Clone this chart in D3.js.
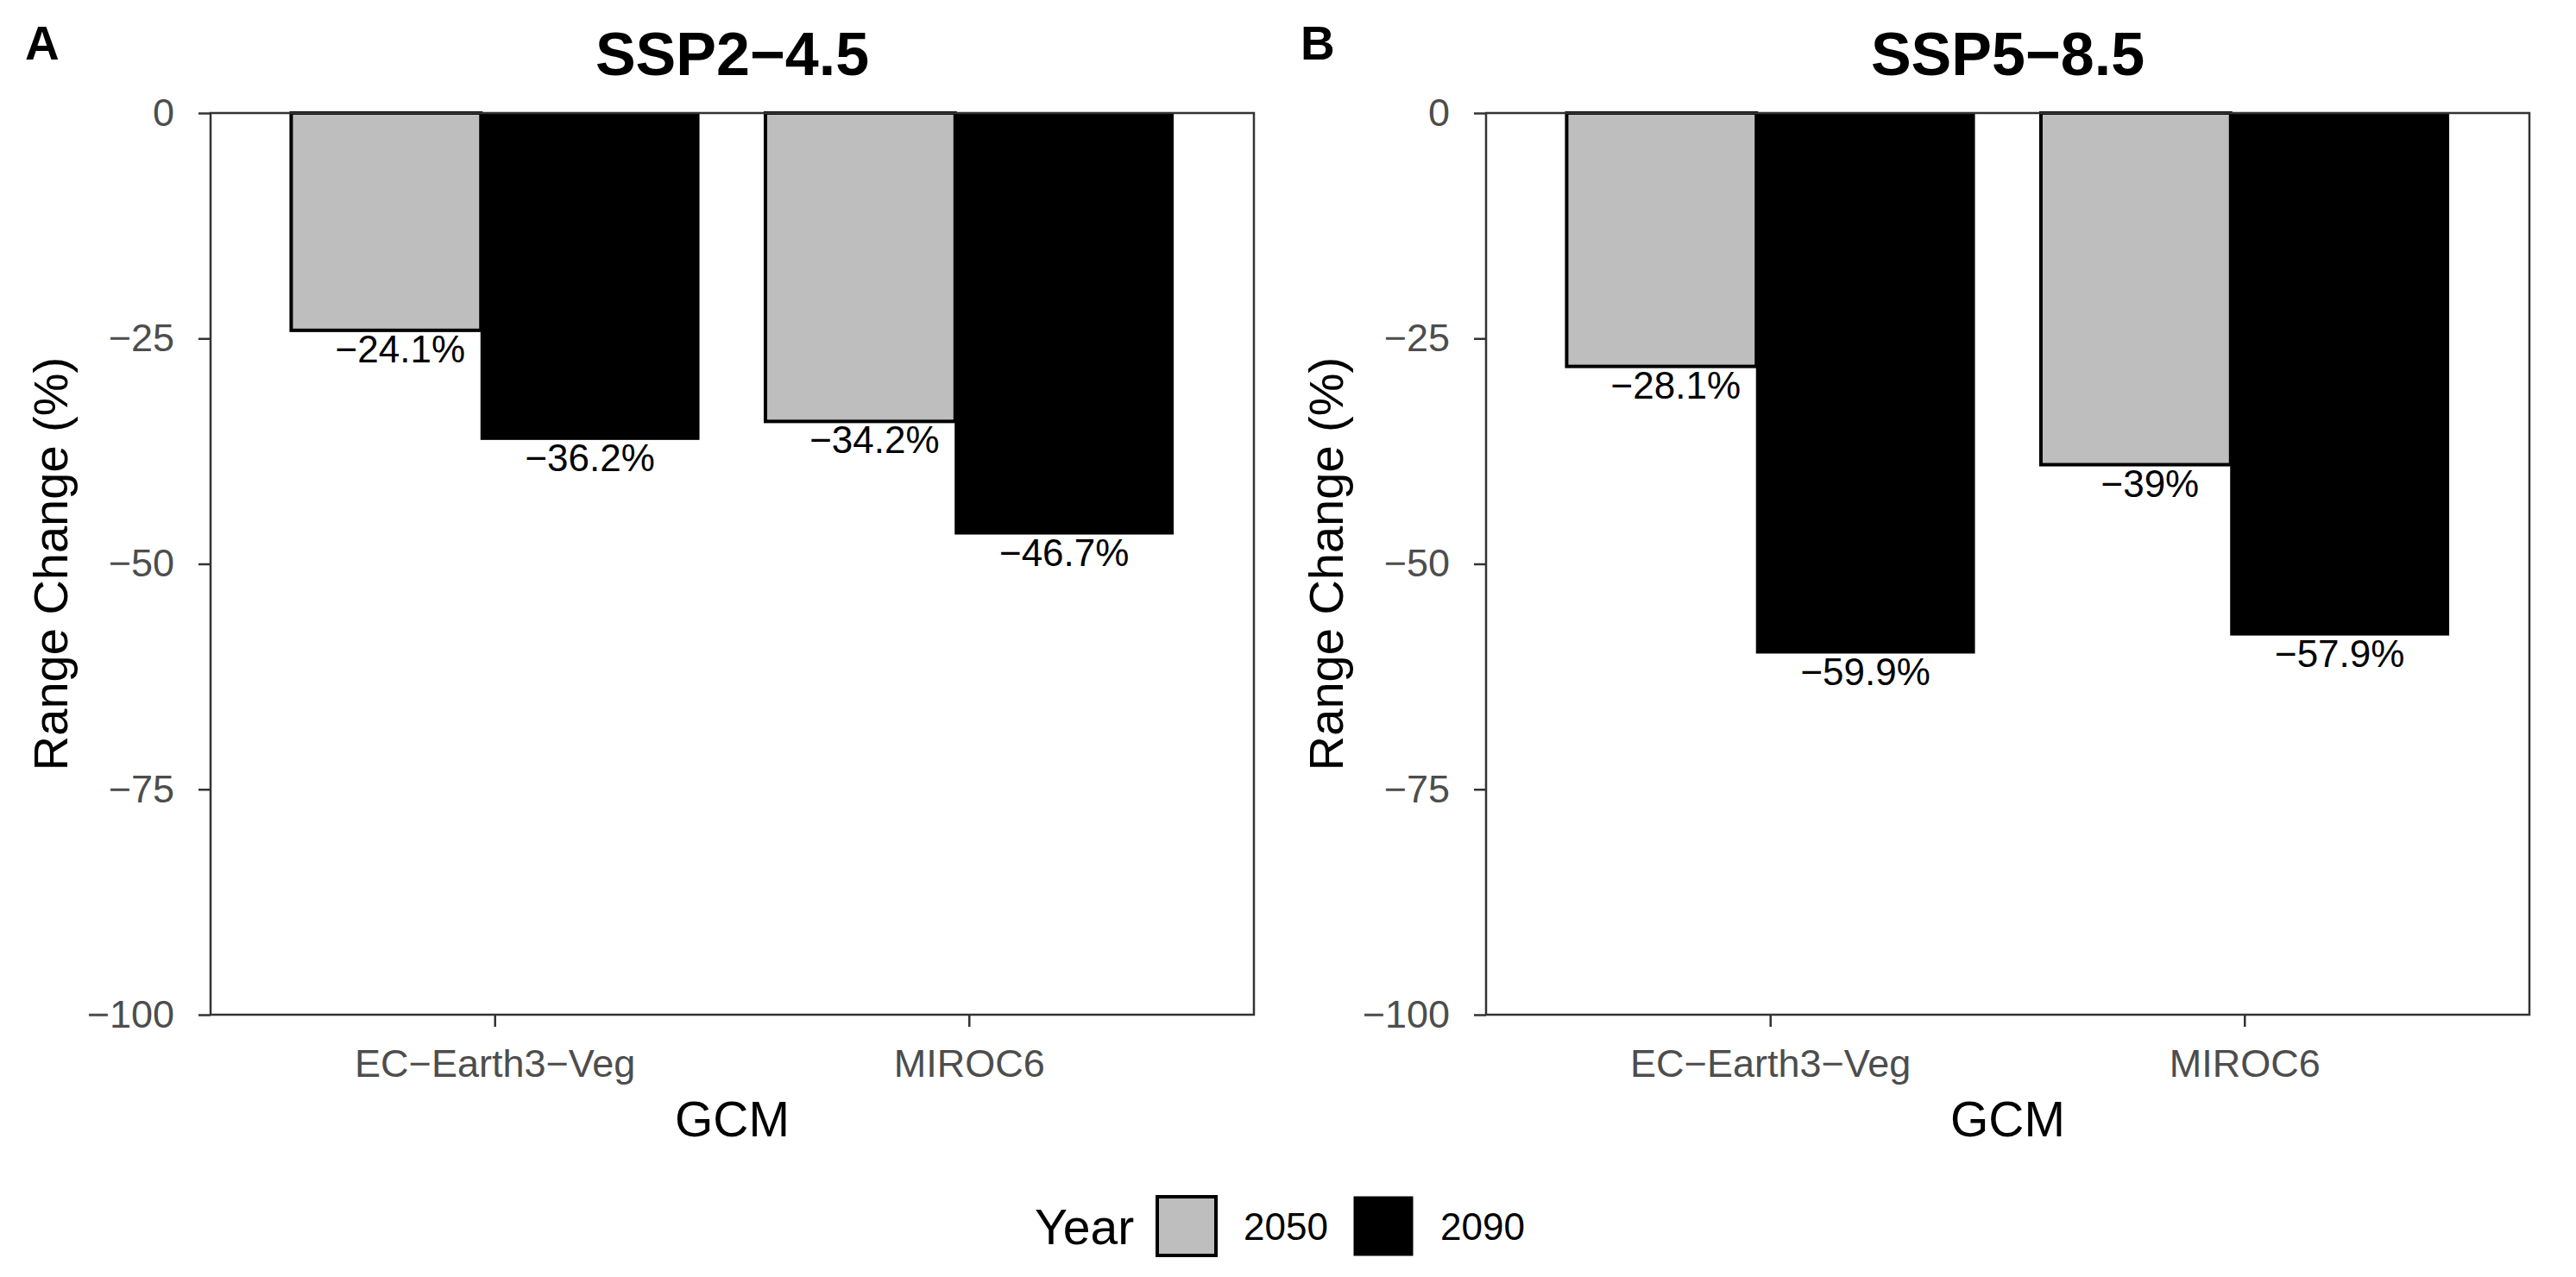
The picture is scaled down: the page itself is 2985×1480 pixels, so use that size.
<!DOCTYPE html>
<html>
<head>
<meta charset="utf-8">
<script src="https://cdn.jsdelivr.net/npm/d3@7"></script>
<style>
  body { margin: 0; background: #fff; }
  text { font-family: "Liberation Sans", Arial, sans-serif; }
</style>
</head>
<body>
<svg id="chart" width="2985" height="1480"></svg>
<script>
"use strict";

// data
var gcms = ["EC-Earth3-Veg", "MIROC6"];
var years = ["2050", "2090"];
var scenarios = ["SSP2\u22124.5", "SSP5\u22128.5"];
var panelTags = ["A", "B"];
var ssp245 = [[-24.1, -36.2], [-34.2, -46.7]];   // [gcm][year]
var ssp585 = [[-28.1, -59.9], [-39, -57.9]];
var yTicks = [0, -25, -50, -75, -100];
var yearFill = ["#bebebe", "#000000"];

(function() {

    var panelValues = [ssp245, ssp585];
    // R draws hyphens as minus signs
    var minus = function(v) { return String(v).replace(/-/g, "\u2212"); };

    var svg = d3.select("#chart");

    var plotTop = 131, plotBottom = 1176;
    var panels = [{left: 244, right: 1453}, {left: 1722, right: 2931}];

    // bar edges relative to the band centre, as a fraction of the band
    var barEdges = [[-0.43, -0.03], [-0.03, 0.43]];
    var labelOffset = [-0.2, 0.2];

    panels.forEach(function(p, pi) {

        var x = d3.scaleBand().domain(gcms).range([p.left, p.right])
            .paddingInner(0).paddingOuter(0.1);
        var y = d3.scaleLinear().domain([-100, 0]).range([plotBottom, plotTop]);
        var bw = x.bandwidth();

        var g = svg.append("g");

        var rows = [];
        gcms.forEach(function(gcm, gi) {
            years.forEach(function(yr, yi) {
                rows.push({gcm: gcm, yi: yi, value: panelValues[pi][gi][yi]});
            });
        });

        var cx = function(d) { return x(d.gcm) + bw / 2; };

        g.selectAll("rect.bar")
            .data(rows)
            .enter()
            .append("rect")
              .attr("class", "bar")
              .attr("x", function(d) { return cx(d) + barEdges[d.yi][0] * bw; })
              .attr("width", function(d) { return (barEdges[d.yi][1] - barEdges[d.yi][0]) * bw; })
              .attr("y", y(0))
              .attr("height", function(d) { return y(d.value) - y(0); })
              .attr("fill", function(d) { return yearFill[d.yi]; })
              .attr("stroke", "#000")
              .attr("stroke-width", function(d) { return d.yi === 0 ? 4 : 1; });

        g.selectAll("text.lbl")
            .data(rows)
            .enter()
            .append("text")
              .attr("class", "lbl")
              .attr("x", function(d) { return cx(d) + labelOffset[d.yi] * bw; })
              .attr("y", function(d) { return y(d.value) + 37; })
              .attr("text-anchor", "middle")
              .attr("font-size", "44px")
              .attr("fill", "#000")
              .text(function(d) { return minus(d.value) + "%"; });

        // panel border
        g.append("rect")
            .attr("x", p.left).attr("y", plotTop)
            .attr("width", p.right - p.left).attr("height", plotBottom - plotTop)
            .attr("fill", "none").attr("stroke", "#333").attr("stroke-width", 2.5);

        var yAxis = g.append("g")
            .attr("transform", "translate(" + p.left + ",0)")
            .call(d3.axisLeft(y).tickValues(yTicks).tickSize(14).tickPadding(28).tickFormat(minus));
        yAxis.select(".domain").remove();
        yAxis.selectAll("line").attr("stroke", "#333").attr("stroke-width", 2.5);
        yAxis.selectAll("text").attr("font-size", "45px").attr("fill", "#4d4d4d")
            .attr("font-family", "Liberation Sans, Arial, sans-serif");

        var xAxis = g.append("g")
            .attr("transform", "translate(0," + plotBottom + ")")
            .call(d3.axisBottom(x).tickSize(14).tickPadding(26).tickFormat(minus));
        xAxis.select(".domain").remove();
        xAxis.selectAll("line").attr("stroke", "#333").attr("stroke-width", 2.5);
        xAxis.selectAll("text").attr("font-size", "45px").attr("fill", "#4d4d4d")
            .attr("font-family", "Liberation Sans, Arial, sans-serif");

        // titles
        var mid = (p.left + p.right) / 2;
        g.append("text")
            .attr("x", mid).attr("y", 87)
            .attr("text-anchor", "middle")
            .attr("font-size", "70px").attr("font-weight", "bold")
            .text(scenarios[pi]);

        g.append("text")
            .attr("x", p.left - 215).attr("y", 69)
            .attr("font-size", "55px").attr("font-weight", "bold")
            .text(panelTags[pi]);

        g.append("text")
            .attr("x", mid).attr("y", 1317)
            .attr("text-anchor", "middle")
            .attr("font-size", "57px")
            .text("GCM");

        g.append("text")
            .attr("transform", "translate(" + (p.left - 166) + "," + ((plotTop + plotBottom) / 2) + ") rotate(-90)")
            .attr("text-anchor", "middle")
            .attr("font-size", "56px")
            .text("Range Change (%)");
    });

    // legend
    var legend = svg.append("g");
    legend.append("text")
        .attr("x", 1199).attr("y", 1442)
        .attr("font-size", "57px")
        .text("Year");

    var keyX = d3.scalePoint().domain(years).range([1341, 1569]);

    legend.selectAll("rect.key")
        .data(years)
        .enter()
        .append("rect")
          .attr("class", "key")
          .attr("x", function(d) { return keyX(d); })
          .attr("y", 1387)
          .attr("width", 68).attr("height", 68)
          .attr("fill", function(d, i) { return yearFill[i]; })
          .attr("stroke", "#000")
          .attr("stroke-width", function(d, i) { return i === 0 ? 4 : 1; });

    legend.selectAll("text.key")
        .data(years)
        .enter()
        .append("text")
          .attr("class", "key")
          .attr("x", function(d) { return keyX(d) + 100; })
          .attr("y", 1437)
          .attr("font-size", "44px")
          .text(function(d) { return d; });

})();
</script>
</body>
</html>
